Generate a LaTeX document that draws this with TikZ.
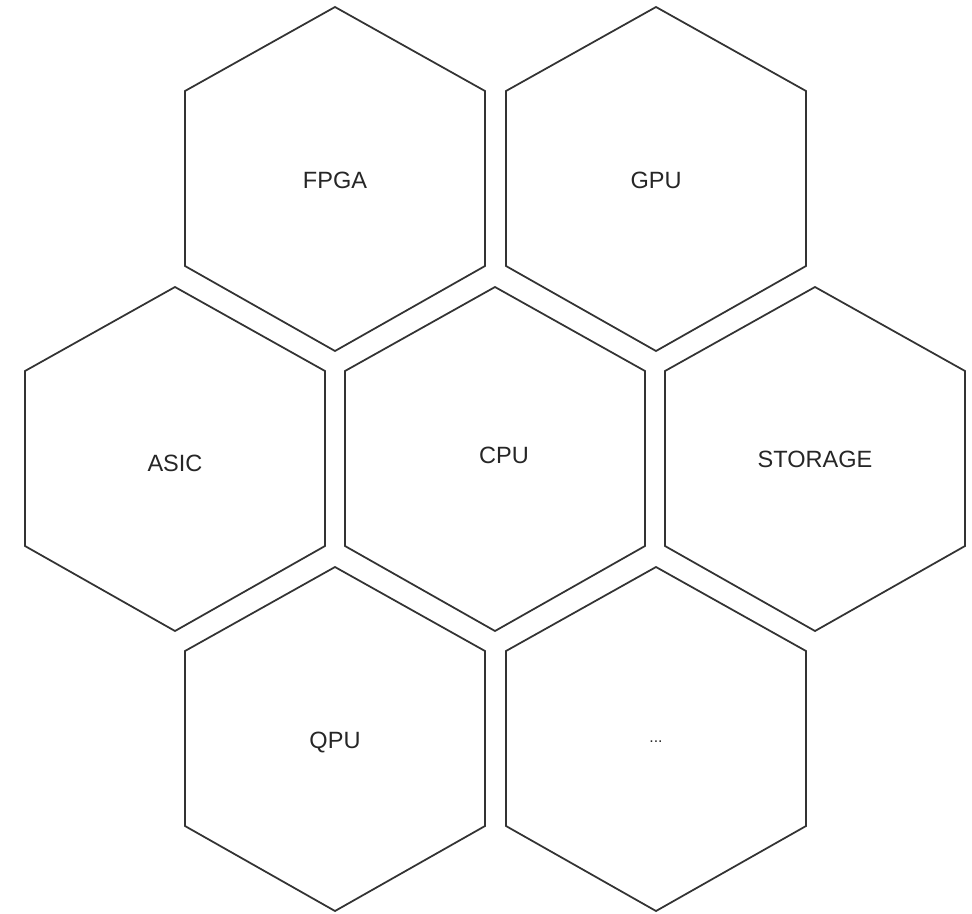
\documentclass[tikz,border=0pt]{standalone}
\usepackage{fontspec}
\setmainfont{Liberation Sans}
\usetikzlibrary{calc}
\begin{document}
\begin{tikzpicture}[x=0.02cm,y=-0.02cm,
  hexline/.style={draw=black!80,line width=1pt,line join=miter},
  hexlabel/.style={font=\fontsize{13.4}{15}\selectfont,text=black!85,inner sep=0pt},
  pics/hexcell/.style={code={
    \draw[hexline] (0,-172) -- (150,-88) -- (150,87) -- (0,172) -- (-150,87) -- (-150,-88) -- cycle;
  }}]
\useasboundingbox (0,0) rectangle (972,913);
% hexagon outlines
\pic (hfpga) at (335,179) {hexcell};
\pic (hgpu) at (656,179) {hexcell};
\pic (hasic) at (175,459) {hexcell};
\pic (hcpu) at (495,459) {hexcell};
\pic (hstorage) at (815,459) {hexcell};
\pic (hqpu) at (335,739) {hexcell};
\pic (hmore) at (656,739) {hexcell};
% labels
\node[hexlabel] (fpga) at (335,180) {FPGA};
\node[hexlabel] (gpu) at (656,180) {GPU};
\node[hexlabel] (asic) at (175,463) {ASIC};
\node[hexlabel] (cpu) at (504,455) {CPU};
\node[hexlabel] (storage) at (815,459) {STORAGE};
\node[hexlabel] (qpu) at (335,742) {QPU};
\node[hexlabel,font=\fontsize{9}{11}\selectfont] (more) at (656,742) {...};
\end{tikzpicture}
\end{document}
